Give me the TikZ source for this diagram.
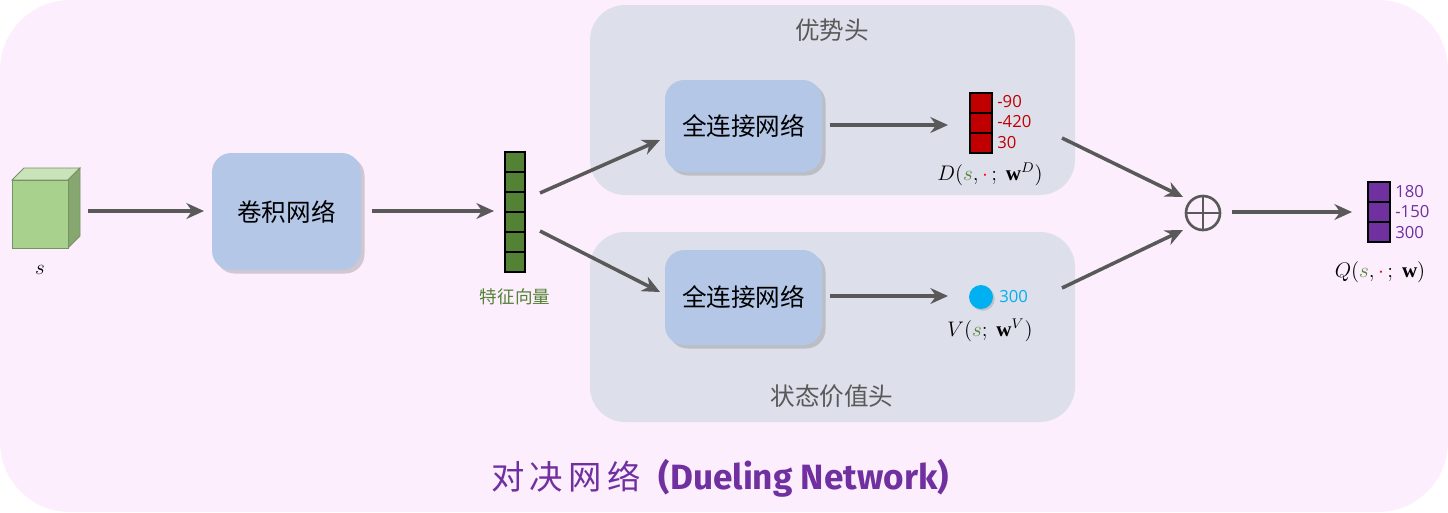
\documentclass[tikz,border=0pt]{standalone}
\usepackage{fontspec}
\setmainfont{Liberation Serif}
\newfontfamily\cjk{Noto Sans CJK SC}
\newfontfamily\numf{Open Sans}
\newfontfamily\titlef{Fira Sans}
\usetikzlibrary{arrows.meta,shadows}
\definecolor{bgpink}{HTML}{FCEEFC}
\definecolor{headbg}{HTML}{DDE0EA}
\definecolor{boxblue}{HTML}{B4C7E7}
\definecolor{fgreen}{HTML}{548235}
\definecolor{cubeg}{HTML}{A9D18E}
\definecolor{dred}{HTML}{C00000}
\definecolor{qpur}{HTML}{7030A0}
\definecolor{vcyan}{HTML}{00B0F0}
\definecolor{agray}{HTML}{595959}
\definecolor{sgreen}{HTML}{548235}
\begin{document}
\begin{tikzpicture}[x=0.02cm,y=-0.02cm,
  arr/.style={draw=agray,line width=2pt,-{Stealth[length=10pt,width=9pt]}},
  net/.style={fill=boxblue,rounded corners=11pt,drop shadow={opacity=0.35,shadow xshift=2pt,shadow yshift=-2pt}},
  cell/.style={draw=black,line width=0.6pt},
  lbl/.style={font=\cjk\fontsize{14}{16}\selectfont},
  head/.style={fill=headbg,rounded corners=20pt},
  num/.style={font=\numf\fontsize{9.5}{10}\selectfont,inner sep=0pt,anchor=west}]
\useasboundingbox (0,0) rectangle (1448,512);
\fill[white] (0,0) rectangle (1448,512);
\fill[bgpink,rounded corners=40pt] (0,0) rectangle (1448,512);
\fill[head] (590,5) rectangle (1075,195);
\fill[head] (590,232) rectangle (1075,422);
\node[font=\cjk\fontsize{14}{16}\selectfont,text=agray] (advt) at (832,30) {优势头};
\node[font=\cjk\fontsize{14}{16}\selectfont,text=agray] (valt) at (832,396) {状态价值头};
% cube
\fill[cubeg!60!white,draw=cubeg!70!black,line width=0.5pt] (12,180)--(24,168)--(80,168)--(68,180)--cycle;
\fill[cubeg!80!black,draw=cubeg!70!black,line width=0.5pt] (68,180)--(80,168)--(80,236)--(68,248)--cycle;
\fill[cubeg,draw=cubeg!70!black,line width=0.5pt] (12,180) rectangle (68,248);
\node (s) at (40,270) {\fontsize{13}{15}\selectfont$s$};
% cnn
\node[net,minimum width=149*0.02cm,minimum height=117*0.02cm,lbl] (cnn) at (286.5,211.5) {卷积网络};
% feature vector
\foreach \i in {0,...,5}{\fill[fgreen] (505,152+20*\i) rectangle (525,172+20*\i); \draw[cell] (505,152+20*\i) rectangle (525,172+20*\i);}
\node[draw=none,minimum width=20*0.02cm,minimum height=120*0.02cm,inner sep=0] (feat) at (515,212) {};
\node[font=\cjk\fontsize{10}{12}\selectfont,text=sgreen] (featl) at (515,297) {特征向量};
% fc nets
\node[net,minimum width=157*0.02cm,minimum height=92*0.02cm,lbl] (fc1) at (743.5,126) {全连接网络};
\node[net,minimum width=157*0.02cm,minimum height=95*0.02cm,lbl] (fc2) at (743.5,297.5) {全连接网络};
% D vector
\foreach \i in {0,1,2}{\fill[dred] (970,93+20*\i) rectangle (992,113+20*\i); \draw[cell] (970,93+20*\i) rectangle (992,113+20*\i);}
\node[inner sep=0,minimum width=22*0.02cm,minimum height=60*0.02cm] (dvec) at (981,123) {};
\node[num,text=dred] at (997,102) {-90};
\node[num,text=dred] at (997,122) {-420};
\node[num,text=dred] at (997,143) {30};
\node (dl) at (990,174) {\fontsize{12}{14}\selectfont$D(\textcolor{sgreen}{s},\textcolor{red}{\cdot}\,;\ \mathbf{w}^D)$};
% V
\node[circle,fill=vcyan,minimum size=24*0.02cm,inner sep=0,drop shadow={opacity=0.3,shadow xshift=1pt,shadow yshift=-1pt}] (vdot) at (981,297) {};
\node[num,text=vcyan] at (999,297) {300};
\node (vl) at (990,330) {\fontsize{12}{14}\selectfont$V(\textcolor{sgreen}{s};\ \mathbf{w}^V)$};
% oplus
\node[circle,draw=agray,line width=1.5pt,minimum size=34*0.02cm,inner sep=0] (plus) at (1203,213) {};
\draw[agray,line width=1.5pt] (plus.north)--(plus.south) (plus.west)--(plus.east);
% Q
\foreach \i in {0,1,2}{\fill[qpur] (1368,182+20*\i) rectangle (1390,202+20*\i); \draw[cell] (1368,182+20*\i) rectangle (1390,202+20*\i);}
\node[inner sep=0,minimum width=22*0.02cm,minimum height=60*0.02cm] (qvec) at (1379,212) {};
\node[num,text=qpur] at (1395,192) {180};
\node[num,text=qpur] at (1395,212) {-150};
\node[num,text=qpur] at (1395,233) {300};
\node (ql) at (1380,272) {\fontsize{12}{14}\selectfont$Q(\textcolor{sgreen}{s},\textcolor{red}{\cdot}\,;\ \mathbf{w})$};
% arrows
\coordinate (a1s) at (88,211); \coordinate (a1e) at (204,211);
\draw[arr] (a1s)--(a1e);
\coordinate (a2s) at (372,211); \coordinate (a2e) at (494,211);
\draw[arr] (a2s)--(a2e);
\coordinate (a3s) at (540,193); \coordinate (a3e) at (660,140);
\draw[arr] (a3s)--(a3e);
\coordinate (a4s) at (540,231); \coordinate (a4e) at (660,292);
\draw[arr] (a4s)--(a4e);
\coordinate (a5s) at (830,125); \coordinate (a5e) at (948,125);
\draw[arr] (a5s)--(a5e);
\coordinate (a6s) at (830,296); \coordinate (a6e) at (948,296);
\draw[arr] (a6s)--(a6e);
\coordinate (a7s) at (1062,138); \coordinate (a7e) at (1183,197);
\draw[arr] (a7s)--(a7e);
\coordinate (a8s) at (1062,288); \coordinate (a8e) at (1183,230);
\draw[arr] (a8s)--(a8e);
\coordinate (a9s) at (1232,212); \coordinate (a9e) at (1352,212);
\draw[arr] (a9s)--(a9e);
% title
\node[text=qpur] (title) at (720,478) {{\cjk\fontsize{19}{22}\selectfont 对\,决\,网\,络}\quad{\titlef\bfseries\fontsize{20}{22}\selectfont (Dueling Network)}};
\end{tikzpicture}
\end{document}
